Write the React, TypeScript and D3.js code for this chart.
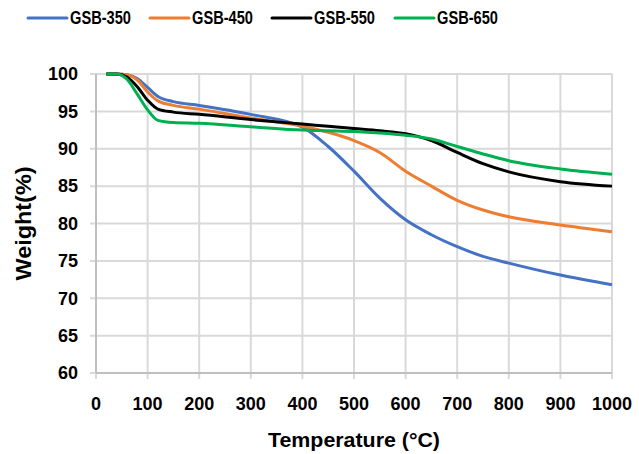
import React from "react";
import * as d3 from "d3";

const temps = [20, 40, 60, 80, 100, 120, 150, 200, 300, 400, 450, 500, 550, 600, 650, 700, 750, 800, 900, 1000];
const gsb350 = [100, 100, 99.9, 99.4, 98.2, 97.0, 96.3, 95.8, 94.6, 92.9, 90.3, 87.0, 83.4, 80.5, 78.5, 76.9, 75.6, 74.7, 73.1, 71.8];
const gsb450 = [100, 100, 99.9, 99.2, 97.6, 96.4, 95.8, 95.3, 94.1, 93.0, 92.2, 91.1, 89.5, 87.0, 85.0, 83.1, 81.8, 80.9, 79.8, 78.9];
const gsb550 = [100, 100, 99.6, 98.3, 96.5, 95.3, 94.9, 94.6, 93.9, 93.3, 93.0, 92.7, 92.4, 92.0, 91.1, 89.5, 88.0, 86.9, 85.6, 85.0];
const gsb650 = [100, 100, 99.3, 97.3, 95.2, 93.8, 93.5, 93.4, 92.95, 92.5, 92.4, 92.3, 92.1, 91.8, 91.3, 90.3, 89.3, 88.4, 87.3, 86.6];

const seriesNames = ["GSB-350", "GSB-450", "GSB-550", "GSB-650"];
const seriesValues = [gsb350, gsb450, gsb550, gsb650];
const seriesColors = ["#4472C4", "#ED7D31", "#000000", "#00B050"];

const xTicks = [0, 100, 200, 300, 400, 500, 600, 700, 800, 900, 1000];
const yTicks = [60, 65, 70, 75, 80, 85, 90, 95, 100];

const width = 639;
const height = 454;
const margin = { top: 74, right: 27, bottom: 81, left: 96 };
const font = "'Liberation Sans', Arial, sans-serif";

export default function App() {
  const x = d3.scaleLinear().domain([0, 1000]).range([margin.left, width - margin.right]);
  const y = d3.scaleLinear().domain([60, 100]).range([height - margin.bottom, margin.top]);

  const line = d3
    .line<number>()
    .x((_, i) => x(temps[i]))
    .y((d) => y(d))
    .curve(d3.curveMonotoneX);

  const gridColor = "#d9d9d9";
  const legendX = [28, 150, 272, 395];

  return (
    <svg
      width={width}
      height={height}
      style={{ position: "absolute", left: 0, top: 0, background: "#fff" }}
      fontFamily={font}
      fontWeight="bold"
    >
      {/* grid */}
      {yTicks.map((t) => (
        <line key={"gy" + t} x1={x(0) - 6} x2={x(1000)} y1={y(t)} y2={y(t)} stroke={gridColor} strokeWidth={2} />
      ))}
      {xTicks.map((t) => (
        <line key={"gx" + t} x1={x(t)} x2={x(t)} y1={y(100)} y2={y(60) + 6} stroke={gridColor} strokeWidth={2} />
      ))}
      {/* axes */}
      <line x1={x(0)} x2={x(0)} y1={y(100)} y2={y(60)} stroke="#bfbfbf" strokeWidth={2} />
      <line x1={x(0)} x2={x(1000)} y1={y(60)} y2={y(60)} stroke="#bfbfbf" strokeWidth={2} />

      {/* tick labels */}
      {yTicks.map((t) => (
        <text key={"ly" + t} x={78} y={y(t)} dy="0.35em" textAnchor="end" fontSize={18} fill="#000">
          {t}
        </text>
      ))}
      {xTicks.map((t) => (
        <text key={"lx" + t} x={x(t)} y={404} dy="0.35em" textAnchor="middle" fontSize={18} fill="#000">
          {t}
        </text>
      ))}

      {/* axis titles */}
      <text x={354} y={447} textAnchor="middle" fontSize={21} fill="#000" textLength={172} lengthAdjust="spacingAndGlyphs">
        Temperature (°C)
      </text>
      <text
        transform={`translate(31,${y(80)}) rotate(-90)`}
        textAnchor="middle"
        fontSize={22}
        fill="#000"
        textLength={114}
        lengthAdjust="spacingAndGlyphs"
      >
        Weight(%)
      </text>

      {/* lines */}
      {seriesValues.map((vals, i) => (
        <path key={seriesNames[i]} d={line(vals) || ""} fill="none" stroke={seriesColors[i]} strokeWidth={3} strokeLinejoin="round" />
      ))}

      {/* legend */}
      {seriesNames.map((name, i) => (
        <g key={"lg" + name} transform={`translate(${legendX[i]},18)`}>
          <line x1={0} x2={39} y1={0} y2={0} stroke={seriesColors[i]} strokeWidth={3} strokeLinecap="round" />
          <text x={42} y={0} dy="0.36em" fontSize={18} fill="#000" textLength={61} lengthAdjust="spacingAndGlyphs">
            {name}
          </text>
        </g>
      ))}
    </svg>
  );
}
